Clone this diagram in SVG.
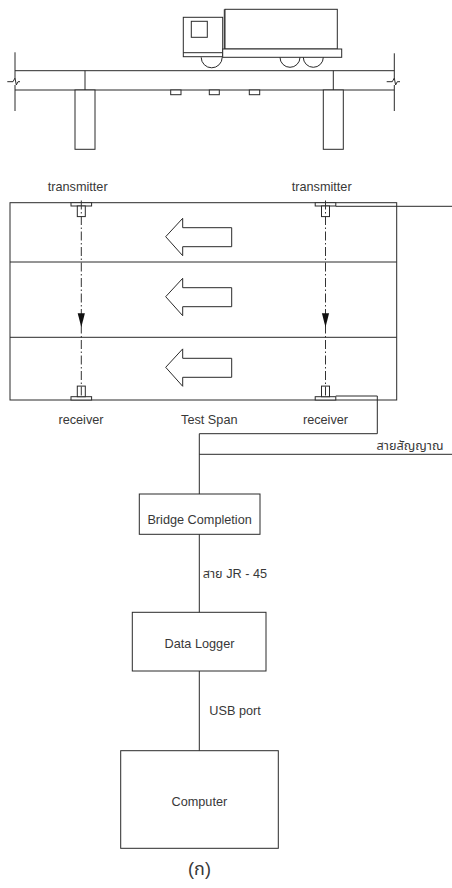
<svg xmlns="http://www.w3.org/2000/svg" width="452" height="888" viewBox="0 0 452 888">
  <style>
    .ln { fill: none; stroke: #2a2a2a; stroke-width: 1; }
    .box { fill: #fff; stroke: #2a2a2a; stroke-width: 1; }
    .axis { fill: none; stroke: #333; stroke-width: 1; stroke-dasharray: 9 2.5 1.5 2.5; }
    .lbl { font-family: "Liberation Sans", Arial, "Noto Sans Thai", "Noto Sans", sans-serif; font-size: 12.7px; fill: #383838; }
    .mid { text-anchor: middle; }
    .end { text-anchor: end; }
    .caption { font-size: 18px; }
  </style>
  <defs>
    <!-- hollow traffic-direction arrow, tip at origin -->
    <path id="lane-arrow" d="M0,0 L17,-18.4 V-9 H66 V10 H17 V19 Z" fill="#fff" stroke="#2a2a2a" stroke-width="1"/>
    <!-- filled beam arrowhead, tip at origin -->
    <path id="beam-head" d="M0,0 L-3.6,-14 H3.6 Z" fill="#111"/>
    <!-- sensor: flange plus stem, flange edge at origin, stem pointing +y -->
    <g id="sensor">
      <rect x="-10.3" y="0" width="20.6" height="3.3" class="box"/>
      <rect x="-4" y="3.3" width="8" height="10.6" class="box"/>
    </g>
  </defs>

  <rect width="452" height="888" fill="#fff"/>

  <!-- elevation: bridge deck, piers and truck -->
  <g id="elevation">
    <!-- deck -->
    <line class="ln" x1="15" y1="70.7" x2="394.3" y2="70.7"/>
    <line class="ln" x1="15" y1="90" x2="394.3" y2="90"/>
    <line class="ln" x1="85" y1="70.7" x2="85" y2="90" stroke-width="1.6"/>
    <line class="ln" x1="333.3" y1="70.7" x2="333.3" y2="90"/>
    <!-- break lines -->
    <path class="ln" d="M15,52.3 V78 M15,85 V111 M7.3,81.7 H13 L15,78 L16.3,85 L18,81.7 H20"/>
    <path class="ln" d="M394.3,53.3 V78 M394.3,85 V111 M386.7,81.7 H392.3 L394.3,78 L395.6,85 L397.3,81.7 H400"/>
    <!-- bearings under deck -->
    <rect class="box" x="170.7" y="90" width="10.3" height="4.7"/>
    <rect class="box" x="209.3" y="90" width="10" height="4.7"/>
    <rect class="box" x="249.3" y="90" width="10.4" height="4.7"/>
    <!-- piers -->
    <rect class="box" x="75" y="90" width="20" height="59.3"/>
    <rect class="box" x="323.3" y="90" width="20" height="59.3"/>
    <!-- truck -->
    <rect class="box" x="225" y="9.3" width="112.3" height="39.7"/>
    <line class="ln" x1="224.3" y1="9.3" x2="224.3" y2="49"/>
    <rect class="box" x="183.3" y="17.3" width="39.4" height="39.4"/>
    <line class="ln" x1="183.3" y1="52.7" x2="222.7" y2="52.7"/>
    <rect class="box" x="191.3" y="21.3" width="16" height="16"/>
    <rect class="box" x="222.7" y="49" width="119" height="8.3"/>
    <path class="ln" d="M201.2,57.3 A10.5,10.5 0 0 0 222.2,57.3"/>
    <path class="ln" d="M280,57.3 A10,10 0 0 0 300,57.3"/>
    <path class="ln" d="M303.3,57.3 A10,10 0 0 0 323.3,57.3"/>
  </g>

  <!-- plan: test span with sensors -->
  <g id="test-span">
    <rect class="ln" x="10" y="202.7" width="386.7" height="197.3"/>
    <line class="ln" x1="10" y1="262" x2="396.7" y2="262"/>
    <line class="ln" x1="10" y1="337.3" x2="396.7" y2="337.3"/>
    <use href="#lane-arrow" x="165.7" y="236.7"/>
    <use href="#lane-arrow" x="165.7" y="296.7"/>
    <use href="#lane-arrow" x="165.7" y="367.3"/>
    <text class="lbl mid" x="209.3" y="424">Test Span</text>
  </g>

  <g id="transmitter-left">
    <use href="#sensor" transform="translate(81.3,202.7)"/>
    <text class="lbl mid" x="77.7" y="190.7">transmitter</text>
  </g>
  <g id="transmitter-right">
    <use href="#sensor" transform="translate(325.5,202.7)"/>
    <text class="lbl mid" x="321.7" y="190.7">transmitter</text>
  </g>
  <g id="receiver-left">
    <use href="#sensor" transform="translate(81.3,400) scale(1,-1)"/>
    <text class="lbl mid" x="81" y="423.5">receiver</text>
  </g>
  <g id="receiver-right">
    <use href="#sensor" transform="translate(325.5,400) scale(1,-1)"/>
    <text class="lbl mid" x="325.5" y="423.5">receiver</text>
  </g>

  <g id="bridge-completion">
    <rect class="box" x="139.3" y="494" width="120.7" height="40.3"/>
    <text class="lbl mid" x="199.6" y="524">Bridge Completion</text>
  </g>
  <g id="data-logger">
    <rect class="box" x="132.3" y="612.3" width="133.7" height="58.7"/>
    <text class="lbl mid" x="199.5" y="648">Data Logger</text>
  </g>
  <g id="computer">
    <rect class="box" x="120.7" y="750.7" width="157.6" height="97.6"/>
    <text class="lbl mid" x="199.4" y="806">Computer</text>
  </g>

  <g id="connectors">
    <!-- beam axes with arrowheads -->
    <line class="axis" x1="81.3" y1="200.5" x2="81.3" y2="396"/>
    <line class="axis" x1="325.5" y1="200.5" x2="325.5" y2="396"/>
    <use href="#beam-head" x="81.3" y="327.3"/>
    <use href="#beam-head" x="325.5" y="327.3"/>
    <!-- signal cables -->
    <polyline class="ln" points="335.8,206.3 452,206.3"/>
    <polyline class="ln" points="335.8,396 377.3,396 377.3,433.7 199.3,433.7 199.3,494"/>
    <line class="ln" x1="199.3" y1="454.3" x2="452" y2="454.3"/>
    <text class="lbl end" x="443.5" y="449.5">สายสัญญาณ</text>
    <line class="ln" x1="199.3" y1="534.3" x2="199.3" y2="612.3"/>
    <text class="lbl" x="202.7" y="578">สาย JR - 45</text>
    <line class="ln" x1="199.3" y1="671" x2="199.3" y2="750.7"/>
    <text class="lbl" x="209.3" y="715">USB port</text>
  </g>

  <text class="lbl mid caption" x="199.5" y="875">(ก)</text>
</svg>
